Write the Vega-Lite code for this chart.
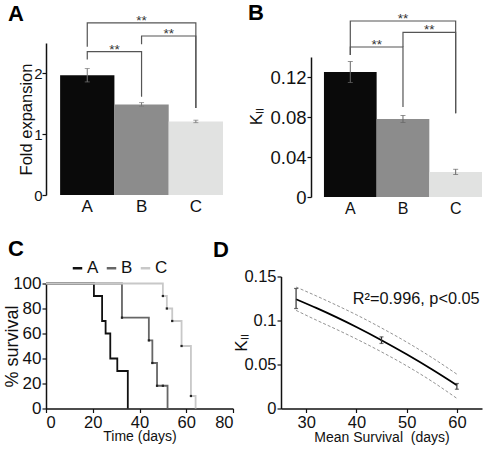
{
  "$schema": "https://vega.github.io/schema/vega-lite/v6.json",
  "background": "white",
  "padding": {"left": 3, "top": 2, "right": 5, "bottom": 5},
  "config": {
    "font": "Liberation Sans",
    "view": {"stroke": null},
    "axis": {"grid": false, "labelOverlap": false, "labelSeparation": 0, "domainColor": "#111", "domainWidth": 1.5, "tickColor": "#111", "tickWidth": 1.2, "tickSize": 4, "labelColor": "#111", "titleColor": "#111", "titleFontWeight": "normal", "labelFont": "Liberation Sans", "titleFont": "Liberation Sans"},
    "title": {"font": "Liberation Sans", "fontWeight": "bold", "fontSize": 22, "anchor": "start", "frame": "group", "offset": 0, "color": "#000"}
  },
  "bounds": "flush",
  "spacing": 233.5,
  "resolve": {"scale": {"stroke": "independent"}, "legend": {"stroke": "independent"}},
  "vconcat": [
    {
      "bounds": "flush",
      "spacing": 88,
      "hconcat": [
        {
          "width": 177,
          "height": 152,
          "title": {"text": "A", "dx": -38, "dy": 16},
          "data": {"values": [
            {"group": "A", "value": 1.97, "lo": 1.86, "hi": 2.08},
            {"group": "B", "value": 1.49, "lo": 1.46, "hi": 1.52},
            {"group": "C", "value": 1.21, "lo": 1.19, "hi": 1.23}
          ]},
          "encoding": {"x": {"field": "group", "type": "nominal", "scale": {"paddingInner": 0, "paddingOuter": 0.13, "align": 1}, "axis": {"domain": false, "ticks": false, "labelAngle": 0, "labelFontSize": 17, "labelPadding": 3, "title": null}}},
          "layer": [
            {"mark": {"type": "bar"}, "encoding": {
              "y": {"field": "value", "type": "quantitative", "title": "Fold expansion", "scale": {"domain": [0, 2.5], "nice": false}, "axis": {"values": [0, 0.5, 1, 1.5, 2, 2.5], "labelExpr": "datum.value % 1 === 0 ? format(datum.value, 'd') : ''", "labelFontSize": 15, "labelPadding": 0, "titleFontSize": 16.5, "titlePadding": -1}},
              "fill": {"field": "group", "type": "nominal", "scale": {"domain": ["A", "B", "C"], "range": ["#0a0a0a", "#8c8c8c", "#e1e2e1"]}, "legend": null}}},
            {"mark": {"type": "rule", "color": "#777", "strokeWidth": 1}, "encoding": {"y": {"field": "lo", "type": "quantitative", "title": "Fold expansion"}, "y2": {"field": "hi"}}},
            {"mark": {"type": "tick", "color": "#777", "size": 5, "thickness": 1}, "encoding": {"y": {"field": "hi", "type": "quantitative", "title": "Fold expansion"}}},
            {"mark": {"type": "tick", "color": "#777", "size": 5, "thickness": 1}, "encoding": {"y": {"field": "lo", "type": "quantitative", "title": "Fold expansion"}}},
            {"data": {"values": [
              {"bracket": "AC", "step": 0, "group": "A", "h": 2.44},
              {"bracket": "AC", "step": 1, "group": "A", "h": 2.83},
              {"bracket": "AC", "step": 2, "group": "C", "h": 2.83},
              {"bracket": "AC", "step": 3, "group": "C", "h": 1.43},
              {"bracket": "BC", "step": 0, "group": "B", "h": 2.48},
              {"bracket": "BC", "step": 1, "group": "B", "h": 2.615},
              {"bracket": "BC", "step": 2, "group": "C", "h": 2.615},
              {"bracket": "BC", "step": 3, "group": "C", "h": 1.43},
              {"bracket": "AB", "step": 0, "group": "A", "h": 2.23},
              {"bracket": "AB", "step": 1, "group": "A", "h": 2.357},
              {"bracket": "AB", "step": 2, "group": "B", "h": 2.357},
              {"bracket": "AB", "step": 3, "group": "B", "h": 1.617}
            ]},
              "mark": {"type": "line", "color": "#555", "strokeWidth": 1.2},
              "encoding": {"y": {"field": "h", "type": "quantitative", "title": "Fold expansion"}, "detail": {"field": "bracket"}, "order": {"field": "step"}}},
            {"data": {"values": [{"group": "B", "h": 2.83, "label": "**"}]},
              "mark": {"type": "text", "fontSize": 13.5, "dy": -2, "color": "#333", "baseline": "middle"},
              "encoding": {"y": {"field": "h", "type": "quantitative", "title": "Fold expansion"}, "text": {"field": "label"}}},
            {"data": {"values": [{"group": "A", "h": 2.357, "label": "**"}, {"group": "B", "h": 2.615, "label": "**"}]},
              "mark": {"type": "text", "fontSize": 13.5, "dy": -2, "color": "#333", "baseline": "middle"},
              "encoding": {"x": {"field": "group", "type": "nominal", "bandPosition": 1}, "y": {"field": "h", "type": "quantitative", "title": "Fold expansion"}, "text": {"field": "label"}}}
          ]
        },
        {
          "width": 171,
          "height": 154,
          "title": {"text": "B", "dx": -63, "dy": 17},
          "data": {"values": [
            {"group": "A", "value": 0.125, "lo": 0.1145, "hi": 0.1355},
            {"group": "B", "value": 0.078, "lo": 0.0745, "hi": 0.0815},
            {"group": "C", "value": 0.025, "lo": 0.0225, "hi": 0.0277}
          ]},
          "encoding": {"x": {"field": "group", "type": "nominal", "scale": {"paddingInner": 0, "paddingOuter": 0.123, "align": 1}, "axis": {"domain": false, "ticks": false, "labelAngle": 0, "labelFontSize": 16, "labelPadding": 3, "title": null}}},
          "layer": [
            {"mark": {"type": "bar"}, "encoding": {
              "y": {"field": "value", "type": "quantitative", "title": "Kₗₗ", "scale": {"domain": [0, 0.14], "nice": false, "range": [154, 14]}, "axis": {"values": [0, 0.02, 0.04, 0.06, 0.08, 0.1, 0.12, 0.14], "labelExpr": "round(datum.value*100) % 4 === 0 ? (datum.value === 0 ? '0' : format(datum.value, '.2f')) : ''", "labelFontSize": 18.5, "labelPadding": 1, "titleFontSize": 17, "titlePadding": 4, "titleY": 73}},
              "fill": {"field": "group", "type": "nominal", "scale": {"domain": ["A", "B", "C"], "range": ["#0a0a0a", "#8c8c8c", "#e1e2e1"]}, "legend": null}}},
            {"mark": {"type": "rule", "color": "#666", "strokeWidth": 1}, "encoding": {"y": {"field": "lo", "type": "quantitative", "title": "Kₗₗ"}, "y2": {"field": "hi"}}},
            {"mark": {"type": "tick", "color": "#666", "size": 5, "thickness": 1}, "encoding": {"y": {"field": "hi", "type": "quantitative", "title": "Kₗₗ"}}},
            {"mark": {"type": "tick", "color": "#666", "size": 5, "thickness": 1}, "encoding": {"y": {"field": "lo", "type": "quantitative", "title": "Kₗₗ"}}},
            {"data": {"values": [
              {"bracket": "AC", "step": 0, "group": "A", "h": 0.142},
              {"bracket": "AC", "step": 1, "group": "A", "h": 0.176},
              {"bracket": "AC", "step": 2, "group": "C", "h": 0.176},
              {"bracket": "AC", "step": 3, "group": "C", "h": 0.0837},
              {"bracket": "BC", "step": 0, "group": "B", "h": 0.150},
              {"bracket": "BC", "step": 1, "group": "B", "h": 0.1647},
              {"bracket": "BC", "step": 2, "group": "C", "h": 0.1647},
              {"bracket": "BC", "step": 3, "group": "C", "h": 0.0837},
              {"bracket": "AB", "step": 0, "group": "A", "h": 0.142},
              {"bracket": "AB", "step": 1, "group": "A", "h": 0.150},
              {"bracket": "AB", "step": 2, "group": "B", "h": 0.150},
              {"bracket": "AB", "step": 3, "group": "B", "h": 0.090}
            ]},
              "mark": {"type": "line", "color": "#555", "strokeWidth": 1.2},
              "encoding": {"y": {"field": "h", "type": "quantitative", "title": "Kₗₗ"}, "detail": {"field": "bracket"}, "order": {"field": "step"}}},
            {"data": {"values": [{"group": "B", "h": 0.176, "label": "**"}]},
              "mark": {"type": "text", "fontSize": 13.5, "dy": -2, "color": "#333", "baseline": "middle"},
              "encoding": {"y": {"field": "h", "type": "quantitative", "title": "Kₗₗ"}, "text": {"field": "label"}}},
            {"data": {"values": [{"group": "A", "h": 0.150, "label": "**"}, {"group": "B", "h": 0.1647, "label": "**"}]},
              "mark": {"type": "text", "fontSize": 13.5, "dy": -2, "color": "#333", "baseline": "middle"},
              "encoding": {"x": {"field": "group", "type": "nominal", "bandPosition": 1}, "y": {"field": "h", "type": "quantitative", "title": "Kₗₗ"}, "text": {"field": "label"}}}
          ]
        }
      ]
    },
    {
      "bounds": "flush",
      "spacing": 48,
      "resolve": {"scale": {"stroke": "independent"}, "legend": {"stroke": "independent"}},
      "hconcat": [
        {
          "width": 187,
          "height": 132,
          "title": {"text": "C", "dx": -38, "dy": 5},
          "encoding": {
            "x": {"field": "t", "type": "quantitative", "title": "Time (days)", "scale": {"domain": [0, 80], "nice": false}, "axis": {"values": [0, 20, 40, 60, 80], "labelFontSize": 16.5, "labelPadding": 2, "titleFontSize": 14, "titlePadding": -2}},
            "y": {"field": "s", "type": "quantitative", "title": "% survival", "scale": {"domain": [0, 100], "nice": false, "range": [132, 7]}, "axis": {"values": [0, 20, 40, 60, 80, 100], "labelOverlap": false, "labelFontSize": 17, "labelPadding": 1, "titleFontSize": 18, "titlePadding": -9}}
          },
          "layer": [
            {"data": {"values": [
              {"grp": "A", "t": 0, "s": 100}, {"grp": "A", "t": 20.5, "s": 90}, {"grp": "A", "t": 24, "s": 70}, {"grp": "A", "t": 25.5, "s": 60}, {"grp": "A", "t": 27.5, "s": 40}, {"grp": "A", "t": 30.5, "s": 30}, {"grp": "A", "t": 35, "s": 0},
              {"grp": "B", "t": 0, "s": 100}, {"grp": "B", "t": 32.5, "s": 72.7}, {"grp": "B", "t": 44, "s": 54.5}, {"grp": "B", "t": 45.5, "s": 36.4}, {"grp": "B", "t": 47.5, "s": 18.2}, {"grp": "B", "t": 52, "s": 0},
              {"grp": "C", "t": 0, "s": 100}, {"grp": "C", "t": 50, "s": 90}, {"grp": "C", "t": 51.7, "s": 80}, {"grp": "C", "t": 54, "s": 70}, {"grp": "C", "t": 58, "s": 50}, {"grp": "C", "t": 62, "s": 10}, {"grp": "C", "t": 64, "s": 0}
            ]},
              "mark": {"type": "line", "interpolate": "step-after", "strokeWidth": 1.8},
              "encoding": {
                "stroke": {"field": "grp", "type": "nominal", "scale": {"domain": ["A", "B", "C"], "range": ["#111111", "#666666", "#c8c8c8"]},
                  "legend": {"orient": "none", "legendX": 23, "legendY": -17, "direction": "horizontal", "title": null, "symbolType": "stroke", "symbolSize": 90, "symbolStrokeWidth": 2.5, "labelFontSize": 17, "labelOffset": 1, "columnPadding": 2, "labelColor": "#111"}}
              }},
            {"data": {"values": [
              {"t": 32.5, "s": 72.7}, {"t": 44, "s": 54.5}, {"t": 45.5, "s": 36.4}, {"t": 47.5, "s": 18.2}, {"t": 50, "s": 18.2},
              {"t": 50, "s": 90}, {"t": 51.7, "s": 80}, {"t": 54, "s": 70}, {"t": 58, "s": 50}, {"t": 62, "s": 10}
            ]},
              "mark": {"type": "square", "size": 5, "color": "#222", "opacity": 1}}
          ]
        },
        {
          "width": 201,
          "height": 132,
          "title": {"text": "D", "dx": -68, "dy": -3},
          "layer": [
            {"data": {"name": "fit", "values": [
              {"ms": 28, "fit": 0.1242, "upper": 0.1380, "lower": 0.1115},
              {"ms": 32, "fit": 0.1143, "upper": 0.1280, "lower": 0.1005},
              {"ms": 36, "fit": 0.1038, "upper": 0.1175, "lower": 0.0900},
              {"ms": 40, "fit": 0.0926, "upper": 0.1065, "lower": 0.0790},
              {"ms": 45, "fit": 0.0776, "upper": 0.0915, "lower": 0.0643},
              {"ms": 50, "fit": 0.0616, "upper": 0.0755, "lower": 0.0485},
              {"ms": 55, "fit": 0.0446, "upper": 0.0580, "lower": 0.0310},
              {"ms": 60, "fit": 0.0265, "upper": 0.0390, "lower": 0.0115}
            ]},
              "layer": [
                {"mark": {"type": "line", "color": "#777", "strokeWidth": 0.8, "strokeDash": [3, 2], "interpolate": "monotone"},
                  "encoding": {
                    "x": {"field": "ms", "type": "quantitative", "title": "Mean Survival \u00a0(days)", "scale": {"domain": [25, 65], "nice": false}, "axis": {"values": [30, 40, 50, 60], "labelFontSize": 16.5, "labelPadding": 2, "titleFontSize": 14, "titlePadding": -1}},
                    "y": {"field": "upper", "type": "quantitative", "title": "Kₗₗ", "scale": {"domain": [0, 0.15], "nice": false}, "axis": {"values": [0, 0.05, 0.1, 0.15], "labelExpr": "datum.value === 0 ? '0' : format(datum.value, '.2~f')", "labelFontSize": 16.5, "labelPadding": 1, "titleFontSize": 17, "titlePadding": -7}}
                  }},
                {"mark": {"type": "line", "color": "#777", "strokeWidth": 0.8, "strokeDash": [3, 2], "interpolate": "monotone"},
                  "encoding": {"x": {"field": "ms", "type": "quantitative", "title": "Mean Survival \u00a0(days)"}, "y": {"field": "lower", "type": "quantitative", "title": "Kₗₗ"}}},
                {"mark": {"type": "line", "color": "#000", "strokeWidth": 1.8, "interpolate": "monotone"},
                  "encoding": {"x": {"field": "ms", "type": "quantitative", "title": "Mean Survival \u00a0(days)"}, "y": {"field": "fit", "type": "quantitative", "title": "Kₗₗ"}}}
              ]},
            {"data": {"values": [
              {"ms": 28, "lo": 0.1136, "hi": 0.1364},
              {"ms": 45, "lo": 0.0739, "hi": 0.0814},
              {"ms": 60, "lo": 0.0219, "hi": 0.0284}
            ]},
              "layer": [
                {"mark": {"type": "rule", "color": "#333", "strokeWidth": 1.2},
                  "encoding": {"x": {"field": "ms", "type": "quantitative", "title": "Mean Survival \u00a0(days)"}, "y": {"field": "lo", "type": "quantitative", "title": "Kₗₗ"}, "y2": {"field": "hi"}}},
                {"mark": {"type": "tick", "orient": "horizontal", "color": "#333", "size": 4, "thickness": 1.2},
                  "encoding": {"x": {"field": "ms", "type": "quantitative", "title": "Mean Survival \u00a0(days)"}, "y": {"field": "lo", "type": "quantitative", "title": "Kₗₗ"}}},
                {"mark": {"type": "tick", "orient": "horizontal", "color": "#333", "size": 4, "thickness": 1.2},
                  "encoding": {"x": {"field": "ms", "type": "quantitative", "title": "Mean Survival \u00a0(days)"}, "y": {"field": "hi", "type": "quantitative", "title": "Kₗₗ"}}}
              ]},
            {"data": {"values": [{"ms": 39.3, "k": 0.1245, "label": "R²=0.996, p<0.05"}]},
              "mark": {"type": "text", "align": "left", "baseline": "middle", "fontSize": 16.3, "color": "#111"},
              "encoding": {"x": {"field": "ms", "type": "quantitative", "title": "Mean Survival \u00a0(days)"}, "y": {"field": "k", "type": "quantitative", "title": "Kₗₗ"}, "text": {"field": "label"}}}
          ]
        }
      ]
    }
  ]
}
